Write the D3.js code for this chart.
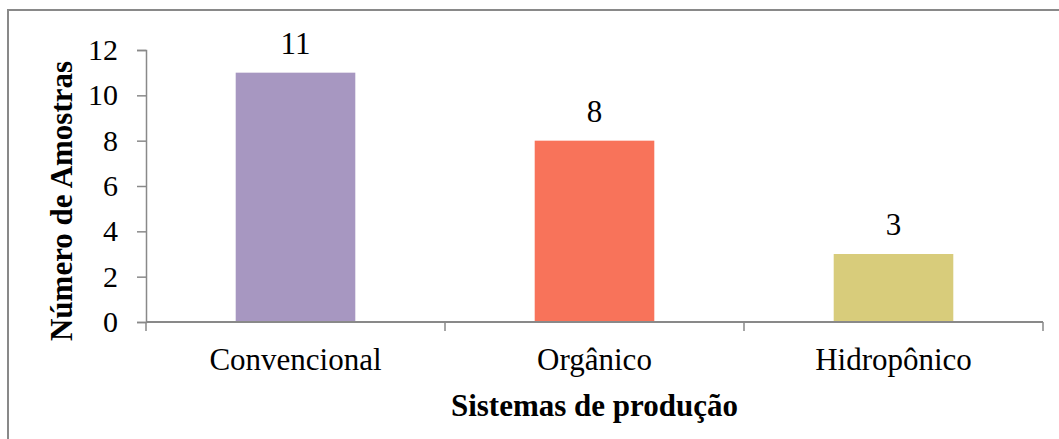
<!DOCTYPE html>
<html>
<head>
<meta charset="utf-8">
<script src="https://cdn.jsdelivr.net/npm/d3@7"></script>
<style>
html,body{margin:0;padding:0;background:#fff;overflow:hidden;}
svg{display:block;}
</style>
</head>
<body>
<svg id="chart" width="1059" height="439"></svg>
<script>
const categories = ["Convencional", "Orgânico", "Hidropônico"];
const values = [11, 8, 3];
const barColors = ["#A797C1", "#F8735A", "#D8CC7B"];
const yTicks = [0, 2, 4, 6, 8, 10, 12];
const yTitle = "Número de Amostras";
const xTitle = "Sistemas de produção";

const W = 1059, H = 439;
const svg = d3.select("#chart");
const font = "'Liberation Serif','Times New Roman',serif";
const gray = "#898989";

// outer border (right/bottom edges fall outside the picture)
svg.append("rect").attr("x", 8).attr("y", 10).attr("width", 1200).attr("height", 600)
  .attr("fill", "#fff").attr("stroke", gray).attr("stroke-width", 2);

const x0 = 146, x1 = 1043, yTop = 50, yBot = 322;
const x = d3.scaleBand().domain(categories).range([x0, x1]).paddingInner(0.6).paddingOuter(0.3);
const y = d3.scaleLinear().domain([0, 12]).range([yBot, yTop]);

// bars
svg.selectAll("rect.bar").data(values).enter().append("rect")
  .attr("class", "bar")
  .attr("x", (d, i) => x(categories[i]))
  .attr("y", d => y(d))
  .attr("width", x.bandwidth())
  .attr("height", d => y(0) - y(d))
  .attr("fill", (d, i) => barColors[i]);

// value labels
svg.selectAll("text.val").data(values).enter().append("text")
  .attr("class", "val")
  .attr("x", (d, i) => x(categories[i]) + x.bandwidth() / 2)
  .attr("y", d => y(d) - 19)
  .attr("text-anchor", "middle")
  .attr("font-family", font).attr("font-size", 31).attr("fill", "#000")
  .text(d => d);

// y axis
const yAxis = svg.append("g").attr("transform", `translate(${x0},0)`)
  .call(d3.axisLeft(y).tickValues(yTicks).tickSize(9).tickPadding(19));
yAxis.select(".domain").attr("stroke", gray).attr("stroke-width", 1.5);
yAxis.selectAll(".tick line").attr("stroke", gray).attr("stroke-width", 1.5);
yAxis.selectAll(".tick text").attr("font-family", font).attr("font-size", 30).attr("fill", "#000");

// x axis
const xEdges = [0, 1, 2, 3].map(i => x0 + i * x.step());
const xAxisG = svg.append("g").attr("transform", `translate(0,${yBot})`);
xAxisG.append("path").attr("d", `M${x0},0H${x1}`).attr("stroke", gray).attr("stroke-width", 2).attr("fill", "none");
xAxisG.selectAll("line.tk").data(xEdges).enter().append("line")
  .attr("x1", d => d).attr("x2", d => d).attr("y1", 0).attr("y2", 9)
  .attr("stroke", gray).attr("stroke-width", 1.5);
xAxisG.selectAll("text.cat").data(categories).enter().append("text")
  .attr("x", d => x(d) + x.bandwidth() / 2)
  .attr("y", 48)
  .attr("text-anchor", "middle")
  .attr("font-family", font).attr("font-size", 31).attr("fill", "#000")
  .text(d => d);

// axis titles
svg.append("text")
  .attr("x", (x0 + x1) / 2).attr("y", 416)
  .attr("text-anchor", "middle")
  .attr("font-family", font).attr("font-size", 31).attr("font-weight", "bold").attr("fill", "#000")
  .text(xTitle);

svg.append("text")
  .attr("transform", `translate(72,${201}) rotate(-90)`)
  .attr("text-anchor", "middle")
  .attr("font-family", font).attr("font-size", 31).attr("font-weight", "bold").attr("fill", "#000")
  .text(yTitle);
</script>
</body>
</html>
